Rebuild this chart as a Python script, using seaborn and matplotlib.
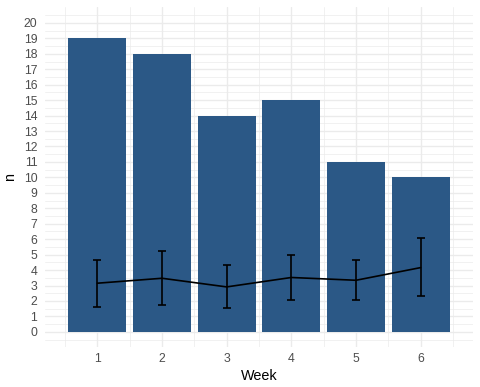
import matplotlib
matplotlib.use("Agg")
import matplotlib.pyplot as plt
import seaborn as sns
import pandas as pd
import numpy as np

weeks = [1, 2, 3, 4, 5, 6]
counts = [19, 18, 14, 15, 11, 10]
mean_vals = [3.15, 3.47, 2.91, 3.52, 3.34, 4.16]
lower_vals = [1.64, 1.72, 1.53, 2.07, 2.06, 2.31]
upper_vals = [4.66, 5.24, 4.32, 4.98, 4.64, 6.05]

sns.set_theme(style="white")
plt.rcParams['font.family'] = ['Liberation Sans', 'DejaVu Sans']

df = pd.DataFrame({"Week": weeks, "n": counts, "mean": mean_vals,
                   "lower": lower_vals, "upper": upper_vals})

fig = plt.figure(figsize=(4.81, 3.87), dpi=100)
ax = fig.add_axes([45/481, (387-347)/387, (473-45)/481, (347-6.7)/387])

sns.barplot(data=df, x="Week", y="n", native_scale=True, width=0.9,
            color="#2B5886", saturation=1, ax=ax, zorder=2, edgecolor="none")
sns.lineplot(data=df, x="Week", y="mean", color="black", linewidth=1.2, ax=ax, zorder=3)
ax.errorbar(df["Week"], df["mean"],
            yerr=[df["mean"] - df["lower"], df["upper"] - df["mean"]],
            fmt="none", ecolor="black", elinewidth=1.2, capsize=2.6, capthick=1.2, zorder=4)

ax.set_xlim(0.19, 6.81)
ax.set_ylim(-0.98, 21.05)
ax.set_xticks(weeks)
ax.set_xticklabels([str(w) for w in weeks])
ax.set_yticks(range(0, 21))
ax.set_xticks(np.arange(0.5, 7.0, 1.0), minor=True)
ax.set_yticks(np.arange(-0.5, 21.0, 1.0), minor=True)
ax.grid(which="major", color="#EBEBEB", linewidth=1.0, zorder=0)
ax.grid(which="minor", color="#EBEBEB", linewidth=0.5, zorder=0)
ax.set_axisbelow(True)
for s in ax.spines.values():
    s.set_visible(False)
ax.tick_params(axis="both", which="both", length=0)
ax.tick_params(axis="x", which="major", labelsize=8.8, labelcolor="#4D4D4D", pad=4.5)
ax.tick_params(axis="y", which="major", labelsize=8.8, labelcolor="#4D4D4D", pad=5.5)
ax.set_xlabel("Week", fontsize=10.4, color="black", labelpad=3)
ax.set_ylabel("n", fontsize=10.4, color="black", labelpad=5)
ax.set_facecolor("white")
fig.patch.set_facecolor("white")

fig.savefig("out.png", dpi=100)
